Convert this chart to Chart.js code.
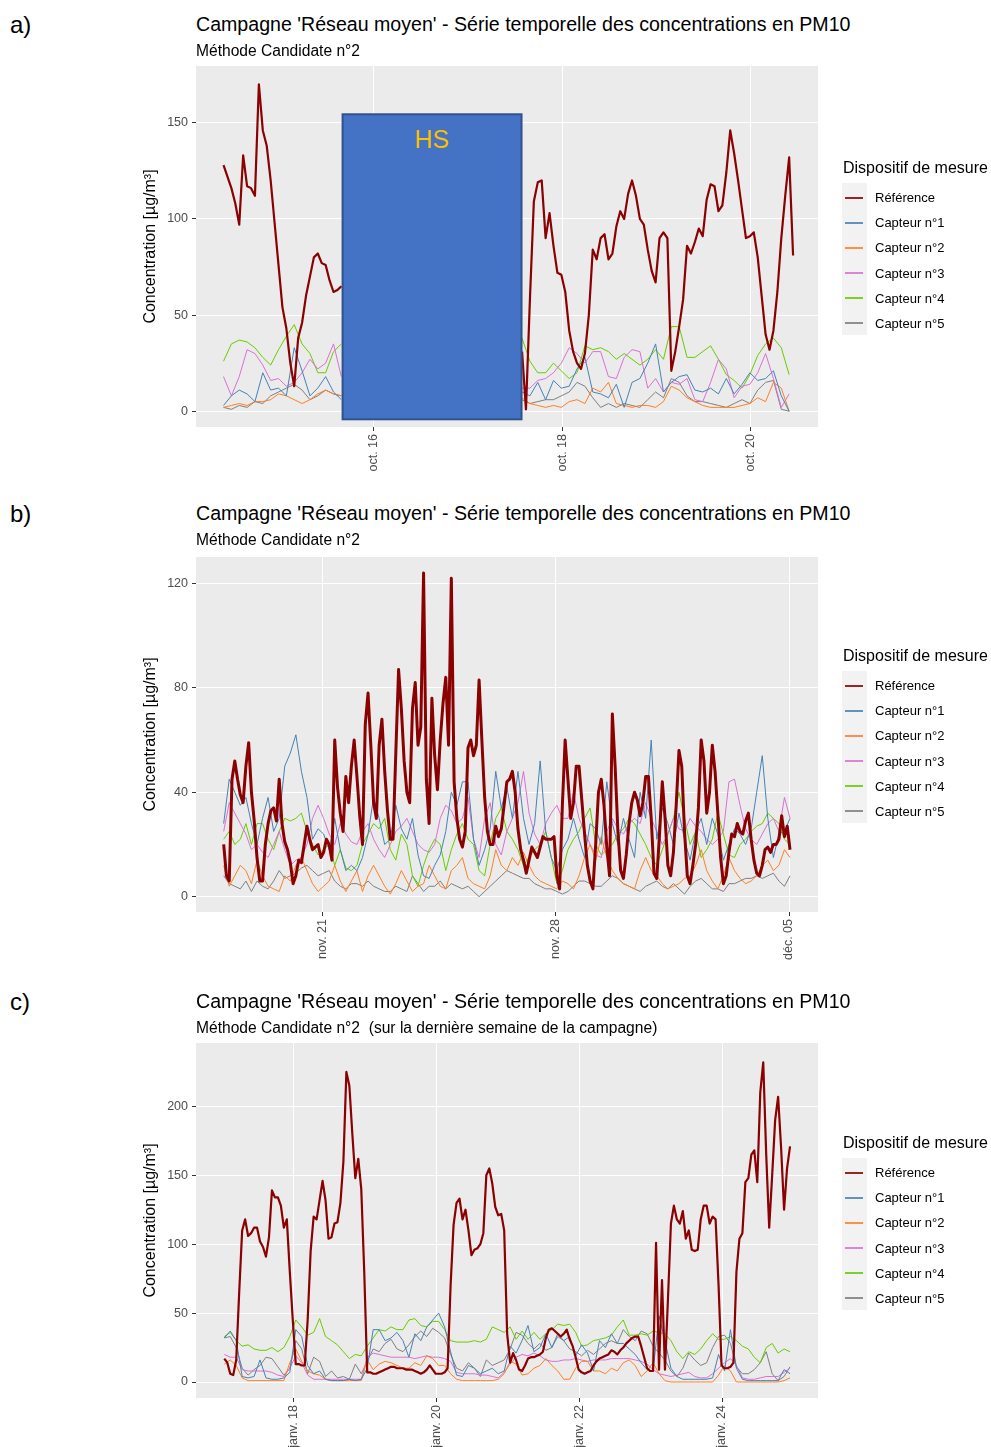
<!DOCTYPE html>
<html lang="fr">
<head>
  <meta charset="UTF-8">
  <title>Campagne 'Réseau moyen' - PM10</title>
  <script src="https://cdn.jsdelivr.net/npm/chart.js"></script>
  <style>
    body { margin: 0; background: #fff; font-family: 'Liberation Sans', Arial, sans-serif; }
    #page { position: relative; width: 991px; height: 1447px; overflow: hidden; }
    canvas { position: absolute; left: 0; }
    .txt { position: absolute; white-space: pre; line-height: 1; color: #000; }
    .panel-label { font-size: 24px; left: 10px; }
    .title { font-size: 19.6px; left: 196px; }
    .subtitle { font-size: 15.6px; left: 196px; }
    .leg-title { font-size: 16px; left: 843px; }
    .leg-item { font-size: 13px; left: 875px; }
    .leg-bg { position: absolute; left: 842px; width: 25px; background: #F2F2F2; }
    .leg-key { position: absolute; left: 845px; width: 18px; height: 2px; opacity: 0.85; }
  </style>
</head>
<body>
<div id="page">
  <canvas id="chartA" width="991" height="436" style="top:54px"></canvas>
  <canvas id="chartB" width="991" height="430" style="top:545px"></canvas>
  <canvas id="chartC" width="991" height="416" style="top:1031px"></canvas>
</div>

<script>
  // Series shared by the three panels
  const seriesNames = ['Référence', 'Capteur n°1', 'Capteur n°2', 'Capteur n°3', 'Capteur n°4', 'Capteur n°5'];
  const seriesColors = ['#8B0000', '#4682B4', '#FF7F24', '#DA70D6', '#66CD00', '#7F7F7F'];
  const panelTitle = "Campagne 'Réseau moyen' - Série temporelle des concentrations en PM10";
  const panelSubtitles = ['Méthode Candidate n°2', 'Méthode Candidate n°2', 'Méthode Candidate n°2  (sur la dernière semaine de la campagne)'];

  // ---- a) October : time = day of month, reference hourly, sensors every 2 h
  const aStart = 14.408;
  const aXTicks = [16, 18, 20];
  const aXLabels = ['oct. 16', 'oct. 18', 'oct. 20'];
  const aYTicks = [0, 50, 100, 150];
  const refA = [128,122,116,108,97,133,117,116,112,170,146,138,120,98,76,54,43,25,13,38,46,60,70,80,82,77,76,68,62,63,65,
    null,null,null,null,null,null,null,null,null,null,null,null,null,null,null,
    null,null,null,null,null,null,null,null,null,null,null,null,null,null,null,
    null,null,null,null,null,null,null,null,null,null,null,null,null,null,null,
    31,1,58,109,119,120,90,103,86,72,71,62,42,31,25,22,30,50,84,79,
    90,92,79,82,96,104,100,113,120,112,100,97,84,73,67,90,93,90,21,31,
    44,58,86,82,88,95,91,110,118,117,104,107,124,146,134,120,105,90,91,93,
    80,60,40,32,42,62,90,112,132,81];
  const capt1A = [3,8,11,9,5,20,11,12,8,33,21,8,12,18,10,6,
    null,null,null,null,null,null,null,null,null,null,null,null,null,null,null,null,null,null,null,null,null,null,
    10,8,15,6,16,12,13,22,28,10,9,7,14,2,15,17,25,35,10,15,18,19,11,10,12,9,17,9,14,20,16,17,21,8,0];
  const capt2A = [2,3,4,3,5,5,6,9,8,6,4,6,9,11,9,8,
    null,null,null,null,null,null,null,null,null,null,null,null,null,null,null,null,null,null,null,null,null,null,
    7,4,3,2,3,2,5,6,4,12,10,15,4,3,2,3,3,2,5,13,11,7,5,3,2,2,2,2,3,4,7,5,15,12,0];
  const capt3A = [18,8,18,32,30,24,16,17,13,15,20,27,22,25,35,18,
    null,null,null,null,null,null,null,null,null,null,null,null,null,null,null,null,null,null,null,null,null,null,
    12,12,16,17,20,25,33,30,25,31,31,18,17,28,32,31,12,17,10,15,14,17,6,5,15,27,22,7,13,14,20,30,17,2,9];
  const capt4A = [26,35,37,36,33,28,24,32,39,45,35,30,20,20,31,35,
    null,null,null,null,null,null,null,null,null,null,null,null,null,null,null,null,null,null,null,null,null,null,
    38,26,20,20,25,21,17,20,34,32,33,31,27,30,27,24,27,32,27,44,44,28,28,31,34,27,19,16,12,19,29,35,38,33,19];
  const capt5A = [2,1,3,2,5,4,8,10,12,14,11,6,8,11,9,8,
    null,null,null,null,null,null,null,null,null,null,null,null,null,null,null,null,null,null,null,null,null,null,
    6,4,5,6,6,8,10,15,13,7,2,4,2,4,3,2,6,10,7,17,15,8,5,5,4,3,2,4,6,4,11,15,16,1,0];
  // "HS" (hors service) box, in data units
  const hsBox = { from: 15.671, to: 17.569, top: 154.4, bottom: -4.2, labelY: 140.5, text: 'HS' };

  // ---- b) November / December : day count from Nov 1 (déc. 05 = 35), reference every 2 h, sensors every 4 h
  const bStart = 18.03;
  const bXTicks = [21, 28, 35];
  const bXLabels = ['nov. 21', 'nov. 28', 'déc. 05'];
  const bYTicks = [0, 40, 80, 120];
  const refB = [20,8,6,45,52,45,39,36,50,59,40,29,15,6,6,20,28,33,34,29,
    45,28,21,18,13,5,8,14,13,20,27,22,18,19,20,15,17,22,20,14,
    60,42,32,25,46,36,50,60,46,31,20,66,78,58,36,30,58,68,48,33,
    22,22,55,87,72,52,40,36,72,82,58,65,124,45,28,76,54,41,60,74,
    84,58,122,44,30,22,19,25,57,60,54,58,83,60,38,25,20,20,27,23,
    26,35,44,45,48,40,26,18,14,9,14,19,17,15,19,23,22,22,22,23,
    8,3,35,60,45,30,36,50,50,37,24,12,6,3,20,40,45,35,19,8,
    70,50,25,10,7,16,28,36,40,37,31,36,46,46,30,9,7,24,44,30,
    12,8,17,35,56,50,25,8,5,12,20,34,60,52,32,40,58,48,32,15,
    5,8,17,24,23,28,25,24,29,32,22,14,9,8,12,18,19,17,20,20,
    22,31,23,27,18];
  const capt1B = [28,45,40,35,38,28,20,30,38,25,30,50,55,62,48,38,22,26,24,18,
    30,18,10,12,10,15,24,38,30,20,22,35,26,22,30,16,8,7,12,16,
    25,40,35,44,44,22,12,18,26,48,34,42,30,48,30,20,28,52,25,15,
    10,18,22,30,22,15,28,26,20,44,28,20,30,22,15,40,30,60,22,34,
    28,20,32,22,14,25,30,20,30,24,14,20,26,24,20,26,40,54,30,15,
    24,25,30];
  const capt2B = [12,4,8,12,10,5,14,8,4,3,2,8,6,12,15,10,5,2,4,6,
    12,6,2,6,10,2,8,12,8,4,1,5,10,6,2,4,5,12,8,4,
    3,10,12,15,7,5,4,3,8,18,12,10,15,12,17,12,8,6,5,4,
    3,6,5,3,8,15,20,14,23,15,10,7,5,4,3,10,15,10,8,5,
    3,4,5,7,8,12,18,10,6,3,8,15,10,7,5,6,8,12,14,10,
    12,18,15];
  const capt3B = [25,36,32,28,24,18,20,17,15,20,25,18,12,14,15,20,30,35,30,24,
    20,28,24,21,20,25,28,22,18,15,20,25,27,30,25,20,18,17,20,30,
    35,33,28,30,38,22,15,30,36,20,16,25,30,36,48,32,24,20,28,32,
    35,30,30,40,30,25,20,16,15,25,30,26,24,28,30,28,36,30,25,20,
    24,30,26,25,30,27,25,22,20,22,25,44,45,35,26,22,20,24,28,30,
    25,38,30];
  const capt4B = [22,25,20,22,28,20,28,28,22,18,25,30,29,30,32,25,20,16,18,20,
    12,18,11,10,12,20,24,28,26,30,18,14,24,20,8,4,12,18,22,20,
    10,18,24,28,22,20,10,8,20,30,34,25,22,18,12,15,18,20,25,15,
    5,10,18,22,25,30,34,20,16,18,20,24,26,30,28,24,20,15,12,18,
    24,30,40,30,20,25,15,18,22,32,24,16,15,20,22,25,27,28,32,30,
    28,22,20];
  const capt5B = [8,5,4,3,6,2,6,4,3,6,10,7,8,9,11,12,10,8,9,10,
    6,4,3,5,5,4,6,4,3,2,2,4,3,2,8,5,2,4,4,6,
    3,5,4,3,4,2,0,2,4,6,8,10,9,8,7,7,5,4,3,3,
    2,1,2,4,6,6,5,4,4,6,8,7,5,4,3,2,4,5,6,4,
    3,5,3,1,4,6,7,5,3,3,2,5,5,6,7,7,8,7,8,9,
    6,4,8];

  // ---- c) January, last week : day of month, reference hourly, sensors every 2 h
  const cStart = 17.035;
  const cXTicks = [18, 20, 22, 24];
  const cXLabels = ['janv. 18', 'janv. 20', 'janv. 22', 'janv. 24'];
  const cYTicks = [0, 50, 100, 150, 200];
  const refC = [17,14,6,5,16,65,110,118,106,108,112,112,102,98,91,105,139,134,134,128,
    112,118,80,45,13,13,12,12,45,95,120,118,132,146,132,104,105,115,116,130,
    160,225,215,180,148,162,140,80,7,7,6,6,7,8,9,10,11,11,10,10,
    10,9,9,9,8,7,6,7,9,12,9,6,6,6,7,10,70,114,130,133,
    118,125,110,92,96,97,100,108,150,155,144,127,121,122,110,35,14,21,16,9,
    8,12,17,18,18,19,20,22,32,38,39,37,35,33,35,38,31,26,18,9,
    7,6,7,8,12,15,17,18,19,20,23,22,20,23,25,28,30,32,33,33,
    26,18,10,8,8,101,9,74,9,60,115,128,118,115,124,104,110,96,95,96,
    118,128,128,115,120,118,70,12,10,10,11,14,80,104,108,145,148,165,168,145,
    210,232,165,112,150,190,207,170,125,155,171];
  const capt1C = [32,37,30,4,3,4,16,3,2,2,3,7,38,33,12,6,8,2,1,1,
    1,2,1,2,10,38,38,30,32,36,30,18,35,30,40,45,50,40,22,5,
    4,12,10,6,8,10,6,8,26,21,30,41,22,25,35,25,35,30,33,19,
    27,21,8,30,25,35,28,28,24,20,14,9,8,48,30,10,4,2,2,2,
    2,2,3,20,8,38,10,2,1,1,1,1,1,1,9,6];
  const capt2C = [13,16,12,3,1,1,1,1,1,1,1,14,24,15,8,6,5,2,1,1,
    1,1,1,1,16,9,13,15,14,12,10,10,14,12,19,17,12,12,6,2,
    1,1,1,1,1,1,2,6,15,13,5,6,10,12,17,12,8,2,2,10,
    15,15,8,8,6,10,8,14,16,12,4,8,14,6,1,0,0,0,0,0,
    0,0,0,5,12,8,0,0,0,0,0,0,0,0,1,3];
  const capt3C = [20,18,18,9,8,8,8,8,7,5,4,10,19,14,5,2,2,2,2,2,
    2,2,2,2,18,21,20,19,18,18,18,18,17,18,19,18,18,17,15,7,
    6,6,6,5,5,4,3,7,13,18,20,19,21,19,16,15,15,16,16,17,
    16,15,16,16,16,17,17,17,17,16,15,13,9,6,5,4,5,6,7,4,
    3,3,6,10,14,17,12,3,2,2,3,4,4,4,7,10];
  const capt4C = [33,36,30,26,27,24,23,23,25,22,25,33,45,40,34,36,46,33,30,27,
    22,17,20,19,26,32,38,37,40,38,38,45,46,41,40,44,44,38,30,29,
    29,29,30,29,31,40,38,36,40,31,37,31,36,31,35,38,42,41,42,36,
    26,27,30,31,32,34,40,45,34,34,35,34,37,36,35,30,22,17,22,20,
    24,30,35,31,31,33,30,26,24,18,14,25,28,21,24,22];
  const capt5C = [32,33,25,10,5,9,12,18,17,11,5,10,30,24,6,18,15,4,8,3,
    4,2,13,6,15,24,22,28,31,24,22,27,33,37,33,39,36,32,20,10,
    8,14,10,4,16,12,14,16,24,36,34,28,24,28,23,25,33,30,24,22,
    19,23,20,24,28,30,28,38,33,30,37,35,26,21,16,8,4,10,21,16,
    12,14,25,33,34,28,11,6,6,9,14,22,6,1,4,11];

  Chart.defaults.font.family = "'Liberation Sans', Arial, sans-serif";

  // grey ggplot panel behind the grid
  const panelBg = {
    id: 'panelBg',
    beforeDraw(chart) {
      const { ctx, chartArea } = chart;
      ctx.save();
      ctx.fillStyle = '#EBEBEB';
      ctx.fillRect(chartArea.left, chartArea.top, chartArea.width, chartArea.height);
      ctx.restore();
    }
  };

  // blue "HS" overlay of panel a)
  const hsOverlay = {
    id: 'hsOverlay',
    afterDatasetsDraw(chart) {
      const { ctx, scales: { x, y } } = chart;
      const left = x.getPixelForValue(hsBox.from), right = x.getPixelForValue(hsBox.to);
      const top = y.getPixelForValue(hsBox.top), bottom = y.getPixelForValue(hsBox.bottom);
      ctx.save();
      ctx.fillStyle = '#4472C4';
      ctx.fillRect(left, top, right - left, bottom - top);
      ctx.strokeStyle = '#2F528F';
      ctx.lineWidth = 2;
      ctx.strokeRect(left, top, right - left, bottom - top);
      ctx.fillStyle = '#FFC000';
      ctx.font = "25px 'Liberation Sans', Arial, sans-serif";
      ctx.textAlign = 'center';
      ctx.textBaseline = 'middle';
      ctx.fillText(hsBox.text, (left + right) / 2, y.getPixelForValue(hsBox.labelY));
      ctx.restore();
    }
  };

  const panels = [
    { id: 'chartA', label: 'a)', textOffset: 0, legendY: 168, axisH: 63,
      xMin: 14.116, xMax: 20.714, yMin: -8.2, yMax: 179.5,
      xTicks: aXTicks, xLabels: aXLabels, yTicks: aYTicks,
      start: aStart, refStep: 1, sensorStep: 2, refWidth: 2.2,
      series: [refA, capt1A, capt2A, capt3A, capt4A, capt5A], extra: [hsOverlay] },
    { id: 'chartB', label: 'b)', textOffset: 489, legendY: 656, axisH: 63,
      xMin: 17.199, xMax: 35.87, yMin: -5.86, yMax: 130.1,
      xTicks: bXTicks, xLabels: bXLabels, yTicks: bYTicks,
      start: bStart, refStep: 2, sensorStep: 4, refWidth: 3,
      series: [refB, capt1B, capt2B, capt3B, capt4B, capt5B], extra: [] },
    { id: 'chartC', label: 'c)', textOffset: 977, legendY: 1143, axisH: 49,
      xMin: 16.639, xMax: 25.343, yMin: -11.6, yMax: 246,
      xTicks: cXTicks, xLabels: cXLabels, yTicks: cYTicks,
      start: cStart, refStep: 1, sensorStep: 2, refWidth: 2.2,
      series: [refC, capt1C, capt2C, capt3C, capt4C, capt5C], extra: [] }
  ];

  const page = document.getElementById('page');
  function addText(cls, text, top) {
    const d = document.createElement('div');
    d.className = 'txt ' + cls;
    d.style.top = top + 'px';
    d.textContent = text;
    page.appendChild(d);
    return d;
  }

  panels.forEach((p, pi) => {
    // titles
    addText('panel-label', p.label, 13 + p.textOffset);
    addText('title', panelTitle, 15 + p.textOffset);
    addText('subtitle', panelSubtitles[pi], 43 + p.textOffset);

    // legend
    addText('leg-title', 'Dispositif de mesure', p.legendY - 8);
    const bg = document.createElement('div');
    bg.className = 'leg-bg';
    bg.style.top = (p.legendY + 15) + 'px';
    bg.style.height = '152px';
    page.appendChild(bg);
    seriesNames.forEach((name, i) => {
      const cy = p.legendY + 29.7 + i * 25.1;
      const key = document.createElement('div');
      key.className = 'leg-key';
      key.style.top = Math.round(cy - 1) + 'px';
      key.style.background = seriesColors[i];
      page.appendChild(key);
      addText('leg-item', name, cy - 6.5);
    });

    // datasets
    const datasets = p.series.map((values, i) => {
      const step = i === 0 ? p.refStep : p.sensorStep;
      return {
        label: seriesNames[i],
        data: values.map((v, k) => ({ x: p.start + k * step / 24, y: v })),
        borderColor: seriesColors[i],
        borderWidth: i === 0 ? p.refWidth : 1,
        pointRadius: 0,
        tension: 0,
        spanGaps: false,
        borderJoinStyle: 'round'
      };
    });

    new Chart(document.getElementById(p.id), {
      type: 'line',
      data: { datasets },
      plugins: [panelBg, ...p.extra],
      options: {
        responsive: false,
        animation: false,
        devicePixelRatio: 1,
        layout: { padding: { left: 137, right: 173, top: 12, bottom: 0 } },
        plugins: { legend: { display: false }, tooltip: { enabled: false } },
        scales: {
          x: {
            type: 'linear',
            bounds: 'data',
            min: p.xMin,
            max: p.xMax,
            afterBuildTicks: s => { s.ticks = p.xTicks.map(v => ({ value: v })); },
            afterFit: s => { s.height = p.axisH; },
            ticks: {
              autoSkip: false,
              minRotation: 90,
              maxRotation: 90,
              padding: 3,
              color: '#4D4D4D',
              font: { size: 12.5 },
              callback: v => p.xLabels[p.xTicks.indexOf(v)]
            },
            grid: { color: '#FFFFFF', lineWidth: 1, tickColor: '#333333', tickLength: 4 },
            border: { display: false }
          },
          y: {
            type: 'linear',
            bounds: 'data',
            min: p.yMin,
            max: p.yMax,
            afterBuildTicks: s => { s.ticks = p.yTicks.map(v => ({ value: v })); },
            afterFit: s => { s.width = 59; },
            ticks: { padding: 4, color: '#4D4D4D', font: { size: 12.5 } },
            grid: { color: '#FFFFFF', lineWidth: 1, tickColor: '#333333', tickLength: 4 },
            border: { display: false },
            title: {
              display: true,
              text: 'Concentration [µg/m³]',
              color: '#000000',
              font: { size: 16 },
              padding: { top: 4, bottom: 0 }
            }
          }
        }
      }
    });
  });
</script>
</body>
</html>
